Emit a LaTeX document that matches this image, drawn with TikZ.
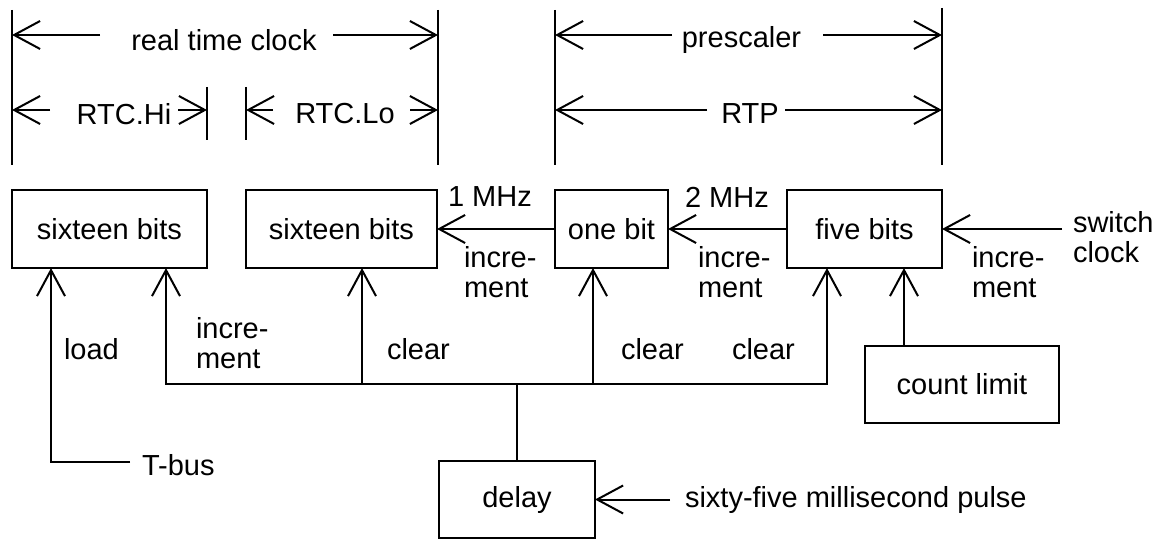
\documentclass[tikz,border=0pt]{standalone}
\usepackage{fontspec}
\setmainfont{Liberation Sans}
\usetikzlibrary{arrows.meta}
\begin{document}
\begin{tikzpicture}[x=1pt,y=-1pt, line width=2pt,
  >={Straight Barb[length=26pt,width=28pt]},
  every node/.style={font=\fontsize{29}{30}\selectfont, inner sep=0pt, outer sep=0pt},
  box/.style={draw, minimum height=78pt},
  lbl/.style={anchor=west, align=left}]
\useasboundingbox (0,0) rectangle (1161,540);

% ---- dimension bars
\coordinate (b1t) at (12,10);   \coordinate (b1b) at (12,165);
\coordinate (b2t) at (438,10);  \coordinate (b2b) at (438,165);
\coordinate (b3t) at (207,87);  \coordinate (b3b) at (207,140);
\coordinate (b4t) at (246,87);  \coordinate (b4b) at (246,140);
\coordinate (b5t) at (555,10);  \coordinate (b5b) at (555,165);
\coordinate (b6t) at (942,8);   \coordinate (b6b) at (942,165);
\draw (b1t) -- (b1b);
\draw (b2t) -- (b2b);
\draw (b3t) -- (b3b);
\draw (b4t) -- (b4b);
\draw (b5t) -- (b5b);
\draw (b6t) -- (b6b);

% ---- dimension labels
\node (rtc) at (224,40) {real time clock};
\coordinate (rtcA) at (100,35); \coordinate (rtcB) at (333,35);
\draw[->] (rtcA) -- (b1t |- rtcA);
\draw[->] (rtcB) -- (b2t |- rtcB);

\node (rtchi) at (124,114) {RTC.Hi};
\coordinate (hiA) at (50,110); \coordinate (hiB) at (178,110);
\draw[->] (hiA) -- (b1t |- hiA);
\draw[->] (hiB) -- (b3t |- hiB);

\node (rtclo) at (345,114) {RTC.Lo};
\coordinate (loA) at (273,110); \coordinate (loB) at (410,110);
\draw[->] (loA) -- (b4t |- loA);
\draw[->] (loB) -- (b2t |- loB);

\node (pre) at (741.5,40) {prescaler};
\coordinate (preA) at (672,35); \coordinate (preB) at (823,35);
\draw[->] (preA) -- (b5t |- preA);
\draw[->] (preB) -- (b6t |- preB);

\node (rtp) at (750,114) {RTP};
\coordinate (rtpA) at (707,110); \coordinate (rtpB) at (785,110);
\draw[->] (rtpA) -- (b5t |- rtpA);
\draw[->] (rtpB) -- (b6t |- rtpB);

% ---- boxes
\node[box, minimum width=195pt] (hi) at (109.5,229) {sixteen bits};
\node[box, minimum width=191pt] (lo) at (341.5,229) {sixteen bits};
\node[box, minimum width=113pt] (one) at (611.5,229) {one bit};
\node[box, minimum width=155pt] (five) at (864.5,229) {five bits};
\node[box, minimum width=194pt, minimum height=77pt] (cnt) at (962,384.5) {count limit};
\node[box, minimum width=156pt, minimum height=77pt] (delay) at (517,499.5) {delay};

% ---- horizontal connectors
\draw[->] (one.west) -- (lo.east);
\draw[->] (five.west) -- (one.east);
\coordinate (sw) at (1062,229);
\draw[->] (sw) -- (five.east);
\coordinate (pulse) at (670,499.5);
\draw[->] (pulse) -- (delay.east);

% ---- T-bus
\coordinate (tbend) at (130,462);
\coordinate (tbcorner) at (51,462);
\draw[->] (tbend) -- (tbcorner) -- (tbcorner |- hi.south);

% ---- clear / increment bus
\coordinate (busL) at (166,384);
\coordinate (busR) at (827,384);
\coordinate (bus2) at (362,384);
\coordinate (bus3) at (593,384);
\draw[<->] (busL |- hi.south) -- (busL) -- (busR) -- (busR |- five.south);
\draw[->] (bus2) -- (bus2 |- lo.south);
\draw[->] (bus3) -- (bus3 |- one.south);
\draw (delay.north) -- (delay.north |- busL);

% ---- count limit
\coordinate (cl) at (904,346);
\draw[->] (cl) -- (cl |- five.south);

% ---- labels
\node[lbl] (l1) at (448,197) {1 MHz};
\node[lbl] (l2) at (464,272) {incre-\\ment};
\node[lbl] (l3) at (685,197) {2 MHz};
\node[lbl] (l4) at (698,272) {incre-\\ment};
\node[lbl] (l5) at (972,272) {incre-\\ment};
\node[lbl] (l6) at (1073,237) {switch\\clock};
\node[lbl] (l7) at (64,349) {load};
\node[lbl] (l8) at (196,343) {incre-\\ment};
\node[lbl] (l9) at (387,349) {clear};
\node[lbl] (l10) at (621,349) {clear};
\node[lbl] (l11) at (732,349) {clear};
\node[lbl] (l12) at (142,465) {T-bus};
\node[lbl] (l13) at (685,500) {sixty-five millisecond pulse};
\end{tikzpicture}
\end{document}
